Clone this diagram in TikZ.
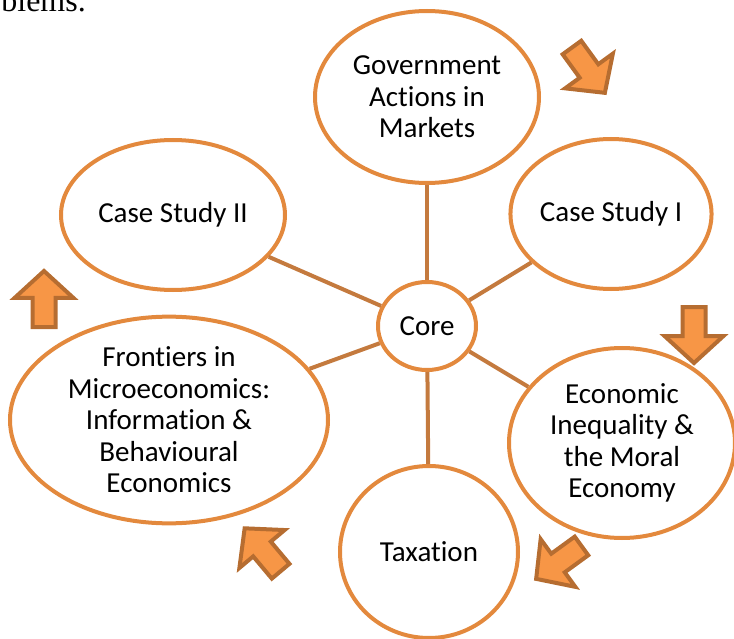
\documentclass[tikz,border=0pt]{standalone}
\usepackage{fontspec}
\setmainfont{Carlito}[Ligatures=NoCommon]
\newfontfamily\bodyserif{Liberation Serif}
\usetikzlibrary{shapes.geometric}

\definecolor{ringorange}{HTML}{E3893D}
\definecolor{spokebrown}{HTML}{C47A3E}
\definecolor{arrowfill}{HTML}{F79646}
\definecolor{arrowedge}{HTML}{B66D31}

\tikzset{
  topic/.style={ellipse, draw=ringorange, line width=4pt, inner sep=0pt, align=center,
    font=\fontsize{29}{31.5}\selectfont},
  spoke/.style={draw=spokebrown, line width=4pt},
  % block arrow pointing along +x, centred on the origin
  pics/turnarrow/.style={code={
    \draw[fill=arrowfill, draw=arrowedge, line width=4pt, line join=miter]
      (-29,-11.5) -- (0,-11.5) -- (0,-29.5) -- (27,0) -- (0,29.5) -- (0,11.5) -- (-29,11.5) -- cycle;
  }}
}

\begin{document}
\begin{tikzpicture}[x=1pt,y=-1pt]
  \useasboundingbox (0,0) rectangle (734,639);

  % end of the paragraph above
  \node[anchor=base east, inner sep=0pt, font=\bodyserif\fontsize{32}{36}\selectfont] (pagetext) at (86,12) {blems.};

  % topics round the core
  \node[topic, minimum width=98pt, minimum height=88pt] (core) at (427,326) {Core};
  \node[topic, minimum width=224pt, minimum height=172pt] (gov) at (427,97) {Government\\Actions in\\Markets};
  \node[topic, minimum width=196pt, minimum height=150pt] (caseone) at (611,214) {Case Study I};
  \node[topic, minimum width=224pt, minimum height=150pt] (casetwo) at (173,215) {Case Study II};
  \node[topic, minimum width=226pt, minimum height=190pt] (inequality) at (622,443) {Economic\\Inequality \&\\the Moral\\Economy};
  \node[topic, minimum width=178pt, minimum height=172pt] (tax) at (429,552) {Taxation};
  \node[topic, minimum width=318pt, minimum height=180pt] (frontiers) at (169,420) {Frontiers in\\Microeconomics:\\Information \&\\Behavioural\\Economics};

  \draw[spoke] (core) -- (gov);
  \draw[spoke] (core) -- (caseone);
  \draw[spoke] (core) -- (casetwo);
  \draw[spoke] (core) -- (inequality);
  \draw[spoke] (core) -- (tax);
  \draw[spoke] (core) -- (frontiers);

  % direction of travel
  \pic[rotate=-54] at (589,71) {turnarrow};
  \pic[rotate=-90] at (694,336) {turnarrow};
  \pic[rotate=-144] at (558,563) {turnarrow};
  \pic[rotate=130] at (262,549) {turnarrow};
  \pic[rotate=90] at (44,298) {turnarrow};
\end{tikzpicture}
\end{document}
